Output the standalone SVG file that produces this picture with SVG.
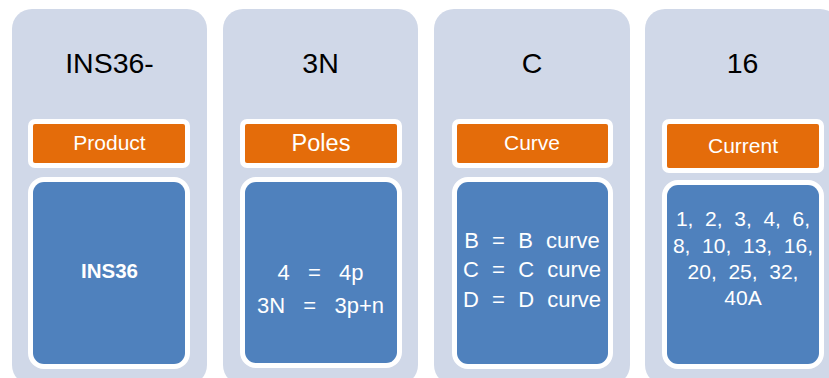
<svg xmlns="http://www.w3.org/2000/svg" width="829" height="378" viewBox="0 0 829 378">
<style>
text{font-family:"Liberation Sans",Arial,sans-serif;text-anchor:middle}
.col{fill:#D0D8E8}
.hdr{fill:#E46C0A;stroke:#FFFFFF;stroke-width:10;paint-order:stroke}
.box{fill:#4F81BD;stroke:#FFFFFF;stroke-width:10;paint-order:stroke}
.title{font-size:28.5px;fill:#000000}
.lbl{font-size:21px;fill:#FFFFFF}
.body{font-size:21px;fill:#FFFFFF;white-space:pre}
.b2{font-size:22px;word-spacing:3px}
.b3{font-size:22px;word-spacing:0.5px}
</style>
<rect width="829" height="378" fill="#FFFFFF"/>
<g id="node-product">
<rect class="col" x="12" y="9" width="195" height="376" rx="20"/>
<text class="title" x="109.5" y="73">INS36-</text>
<rect class="hdr" x="33" y="124" width="152" height="39" rx="2"/>
<text class="lbl" x="109.5" y="150">Product</text>
<rect class="box" x="33" y="182" width="152" height="182" rx="11"/>
<text class="body" x="109.5" y="278" style="font-weight:bold;font-size:20.5px">INS36</text>
</g>
<g id="node-poles">
<rect class="col" x="223" y="9" width="195" height="376" rx="20"/>
<text class="title" x="320.5" y="73">3N</text>
<rect class="hdr" x="245" y="124" width="152" height="39" rx="2"/>
<text class="lbl" x="321" y="151" style="font-size:23.5px">Poles</text>
<rect class="box" x="245" y="182" width="152" height="181" rx="11"/>
<text class="body b2" x="320.5" y="280" xml:space="preserve">4  =  4p</text>
<text class="body b2" x="320.5" y="313" xml:space="preserve">3N  =  3p+n</text>
</g>
<g id="node-curve">
<rect class="col" x="434" y="9" width="196" height="376" rx="20"/>
<text class="title" x="532" y="73">C</text>
<rect class="hdr" x="457" y="124" width="151" height="39" rx="2"/>
<text class="lbl" x="532" y="150">Curve</text>
<rect class="box" x="457" y="182" width="151" height="182" rx="11"/>
<text class="body b3" x="532" y="248" xml:space="preserve">B  =  B  curve</text>
<text class="body b3" x="532" y="277" xml:space="preserve">C  =  C  curve</text>
<text class="body b3" x="532" y="307" xml:space="preserve">D  =  D  curve</text>
</g>
<g id="node-current">
<rect class="col" x="645" y="9" width="195" height="376" rx="20"/>
<text class="title" x="742.5" y="73">16</text>
<rect class="hdr" x="667" y="124" width="152" height="44" rx="2"/>
<text class="lbl" x="743" y="153">Current</text>
<rect class="box" x="667" y="185" width="152" height="179" rx="11"/>
<text class="body" x="743" y="226" xml:space="preserve">1,  2,  3,  4,  6,</text>
<text class="body" x="743" y="253" xml:space="preserve">8,  10,  13,  16,</text>
<text class="body" x="743" y="279" xml:space="preserve">20,  25,  32,</text>
<text class="body" x="743" y="305">40A</text>
</g>
<g id="connectors"></g>
</svg>
